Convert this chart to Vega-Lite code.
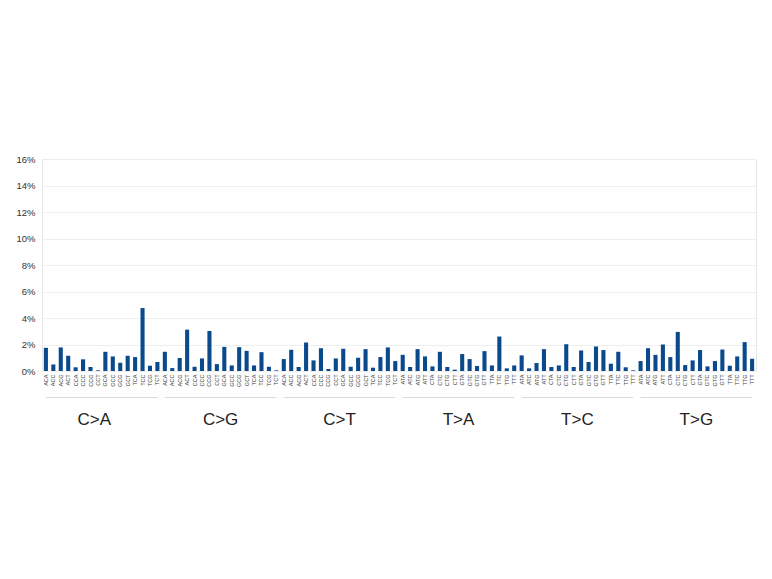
{
  "$schema": "https://vega.github.io/schema/vega-lite/v6.json",
  "autosize": {"type": "none"},
  "width": 714,
  "height": 212,
  "padding": {"left": 42, "top": 159, "right": 16, "bottom": 208},
  "background": "white",
  "config": {
    "font": "Liberation Sans",
    "view": {"stroke": "#e6e6e6"},
    "axisY": {
      "labelExpr": "datum.value + '%'", "labelFontSize": 9.5, "labelColor": "#333",
      "labelOverlap": false, "labelBound": false,
      "ticks": false, "labelPadding": 7, "domainColor": "#e6e6e6",
      "gridColor": "#eeeeee", "title": null
    }
  },
  "datasets": {
    "bars": [
      {"k": "C>A ACA", "v": 1.75}, {"k": "C>A ACC", "v": 0.5}, {"k": "C>A ACG", "v": 1.78}, {"k": "C>A ACT", "v": 1.15},
      {"k": "C>A CCA", "v": 0.28}, {"k": "C>A CCC", "v": 0.88}, {"k": "C>A CCG", "v": 0.3}, {"k": "C>A CCT", "v": 0.05},
      {"k": "C>A GCA", "v": 1.45}, {"k": "C>A GCC", "v": 1.1}, {"k": "C>A GCG", "v": 0.62}, {"k": "C>A GCT", "v": 1.15},
      {"k": "C>A TCA", "v": 1.05}, {"k": "C>A TCC", "v": 4.75}, {"k": "C>A TCG", "v": 0.4}, {"k": "C>A TCT", "v": 0.68},
      {"k": "C>G ACA", "v": 1.45}, {"k": "C>G ACC", "v": 0.22}, {"k": "C>G ACG", "v": 0.98}, {"k": "C>G ACT", "v": 3.12},
      {"k": "C>G CCA", "v": 0.32}, {"k": "C>G CCC", "v": 0.95}, {"k": "C>G CCG", "v": 3.02}, {"k": "C>G CCT", "v": 0.52},
      {"k": "C>G GCA", "v": 1.82}, {"k": "C>G GCC", "v": 0.42}, {"k": "C>G GCG", "v": 1.8}, {"k": "C>G GCT", "v": 1.52},
      {"k": "C>G TCA", "v": 0.42}, {"k": "C>G TCC", "v": 1.42}, {"k": "C>G TCG", "v": 0.32}, {"k": "C>G TCT", "v": 0.05},
      {"k": "C>T ACA", "v": 0.9}, {"k": "C>T ACC", "v": 1.6}, {"k": "C>T ACG", "v": 0.3}, {"k": "C>T ACT", "v": 2.15},
      {"k": "C>T CCA", "v": 0.8}, {"k": "C>T CCC", "v": 1.72}, {"k": "C>T CCG", "v": 0.15}, {"k": "C>T CCT", "v": 0.95},
      {"k": "C>T GCA", "v": 1.68}, {"k": "C>T GCC", "v": 0.32}, {"k": "C>T GCG", "v": 1.0}, {"k": "C>T GCT", "v": 1.65},
      {"k": "C>T TCA", "v": 0.25}, {"k": "C>T TCC", "v": 1.05}, {"k": "C>T TCG", "v": 1.78}, {"k": "C>T TCT", "v": 0.75},
      {"k": "T>A ATA", "v": 1.22}, {"k": "T>A ATC", "v": 0.3}, {"k": "T>A ATG", "v": 1.65}, {"k": "T>A ATT", "v": 1.1},
      {"k": "T>A CTA", "v": 0.35}, {"k": "T>A CTC", "v": 1.45}, {"k": "T>A CTG", "v": 0.3}, {"k": "T>A CTT", "v": 0.1},
      {"k": "T>A GTA", "v": 1.28}, {"k": "T>A GTC", "v": 0.9}, {"k": "T>A GTG", "v": 0.38}, {"k": "T>A GTT", "v": 1.5},
      {"k": "T>A TTA", "v": 0.42}, {"k": "T>A TTC", "v": 2.6}, {"k": "T>A TTG", "v": 0.2}, {"k": "T>A TTT", "v": 0.42},
      {"k": "T>C ATA", "v": 1.18}, {"k": "T>C ATC", "v": 0.2}, {"k": "T>C ATG", "v": 0.6}, {"k": "T>C ATT", "v": 1.65},
      {"k": "T>C CTA", "v": 0.3}, {"k": "T>C CTC", "v": 0.42}, {"k": "T>C CTG", "v": 2.02}, {"k": "T>C CTT", "v": 0.3},
      {"k": "T>C GTA", "v": 1.55}, {"k": "T>C GTC", "v": 0.68}, {"k": "T>C GTG", "v": 1.85}, {"k": "T>C GTT", "v": 1.58},
      {"k": "T>C TTA", "v": 0.55}, {"k": "T>C TTC", "v": 1.45}, {"k": "T>C TTG", "v": 0.28}, {"k": "T>C TTT", "v": 0.05},
      {"k": "T>G ATA", "v": 0.75}, {"k": "T>G ATC", "v": 1.72}, {"k": "T>G ATG", "v": 1.22}, {"k": "T>G ATT", "v": 2.0},
      {"k": "T>G CTA", "v": 1.05}, {"k": "T>G CTC", "v": 2.95}, {"k": "T>G CTG", "v": 0.45}, {"k": "T>G CTT", "v": 0.8},
      {"k": "T>G GTA", "v": 1.58}, {"k": "T>G GTC", "v": 0.35}, {"k": "T>G GTG", "v": 0.75}, {"k": "T>G GTT", "v": 1.62},
      {"k": "T>G TTA", "v": 0.4}, {"k": "T>G TTC", "v": 1.1}, {"k": "T>G TTG", "v": 2.18}, {"k": "T>G TTT", "v": 0.92}
    ],
    "groups": [
      {"m": "C>A", "a": "C>A ACA", "b": "C>A TCT", "mid": "C>A CCG"},
      {"m": "C>G", "a": "C>G ACA", "b": "C>G TCT", "mid": "C>G CCT"},
      {"m": "C>T", "a": "C>T ACA", "b": "C>T TCT", "mid": "C>T CCT"},
      {"m": "T>A", "a": "T>A ATA", "b": "T>A TTT", "mid": "T>A CTT"},
      {"m": "T>C", "a": "T>C ATA", "b": "T>C TTT", "mid": "T>C CTT"},
      {"m": "T>G", "a": "T>G ATA", "b": "T>G TTT", "mid": "T>G CTT"}
    ]
  },
  "layer": [
    {
      "data": {"name": "bars"},
      "mark": {"type": "bar", "color": "#0a4a8c"},
      "encoding": {
        "x": {
          "field": "k", "type": "nominal",
          "scale": {"paddingInner": 0.45, "paddingOuter": 0.25},
          "axis": {
            "title": null, "labelAngle": -90, "labelFontSize": 5.5, "labelColor": "#444",
            "labelExpr": "slice(datum.label, 4)", "ticks": false, "domain": false,
            "labelPadding": 3, "grid": false
          }
        },
        "y": {
          "field": "v", "type": "quantitative",
          "scale": {"domain": [0, 16], "nice": false},
          "axis": {"values": [0, 2, 4, 6, 8, 10, 12, 14, 16], "tickCount": 9}
        }
      }
    },
    {
      "data": {"name": "groups"},
      "mark": {"type": "rule", "color": "#d9d9d9", "strokeWidth": 1.2},
      "encoding": {
        "x": {"field": "a", "type": "nominal"},
        "x2": {"field": "b"},
        "y": {"datum": -2, "type": "quantitative", "axis": {"values": [0, 2, 4, 6, 8, 10, 12, 14, 16], "tickCount": 9}}
      }
    },
    {
      "data": {"name": "groups"},
      "mark": {"type": "text", "fontSize": 17, "color": "#222", "baseline": "middle", "align": "center"},
      "encoding": {
        "x": {"field": "mid", "type": "nominal", "bandPosition": 1.41},
        "y": {"datum": -3.7, "type": "quantitative", "axis": {"values": [0, 2, 4, 6, 8, 10, 12, 14, 16], "tickCount": 9}},
        "text": {"field": "m"}
      }
    }
  ]
}
